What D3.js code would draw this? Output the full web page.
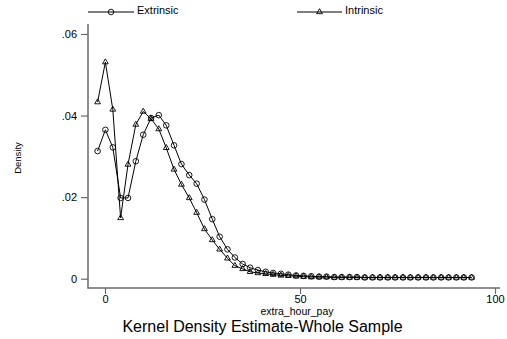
<!DOCTYPE html>
<html>
<head>
<meta charset="utf-8">
<script src="https://cdn.jsdelivr.net/npm/d3@7"></script>
<style>
  body { margin: 0; background: #fff; }
  svg { display: block; font-family: "Liberation Sans", Arial, sans-serif; }
</style>
</head>
<body>
<script>
// evaluation points of the kernel density (extra_hour_pay)
var xPoints = [-1.9, 0.1, 2.0, 4.0, 5.9, 7.9, 9.8, 11.8, 13.8, 15.7,
    17.7, 19.6, 21.6, 23.5, 25.5, 27.5, 29.4, 31.4, 33.3, 35.3,
    37.2, 39.2, 41.2, 43.1, 45.1, 47.0, 49.0, 50.9, 52.9, 54.9,
    56.8, 58.8, 60.7, 62.7, 64.6, 66.6, 68.6, 70.5, 72.5, 74.4,
    76.4, 78.3, 80.3, 82.3, 84.2, 86.2, 88.1, 90.1, 92.0, 94.0];

var extrinsic = [0.0313, 0.0365, 0.0322, 0.0198, 0.0198, 0.0288, 0.0353, 0.0394, 0.0401, 0.0376,
    0.0327, 0.0281, 0.0254, 0.0233, 0.0194, 0.0146, 0.0103, 0.0072, 0.0052, 0.0036,
    0.0027, 0.0021, 0.0017, 0.0014, 0.0012, 0.0010, 0.0008, 0.0007, 0.0006, 0.0005,
    0.0005, 0.0004, 0.0004, 0.0004, 0.0004, 0.0003, 0.0003, 0.0003, 0.0003, 0.0003,
    0.0003, 0.0003, 0.0003, 0.0003, 0.0003, 0.0003, 0.0003, 0.0003, 0.0003, 0.0003];

var intrinsic = [0.0433, 0.0531, 0.0415, 0.0149, 0.0280, 0.0378, 0.0410, 0.0392, 0.0367, 0.0321,
    0.0268, 0.0231, 0.0198, 0.0162, 0.0122, 0.0095, 0.0072, 0.0050, 0.0032, 0.0024,
    0.0017, 0.0014, 0.0012, 0.0010, 0.0008, 0.0007, 0.0006, 0.0005, 0.0004, 0.0004,
    0.0004, 0.0003, 0.0003, 0.0003, 0.0003, 0.0003, 0.0003, 0.0003, 0.0003, 0.0003,
    0.0003, 0.0003, 0.0003, 0.0003, 0.0003, 0.0003, 0.0003, 0.0003, 0.0003, 0.0003];

var xTicks = [0, 50, 100];
var yTicks = [0, 0.02, 0.04, 0.06];
var yTickLabels = ["0", ".02", ".04", ".06"];

var seriesNames = ["Extrinsic", "Intrinsic"];

(function() {
    var width = 507, height = 339;
    var svg = d3.select("body").append("svg")
        .attr("width", width)
        .attr("height", height);

    var x = d3.scaleLinear().domain([0, 100]).range([105, 495]);
    var y = d3.scaleLinear().domain([0, 0.06]).range([278.7, 34]);

    var axisColor = "#6a6a6a";

    // y axis
    var yAxis = d3.axisLeft(y)
        .tickValues(yTicks)
        .tickSize(7)
        .tickPadding(4)
        .tickFormat((d, i) => yTickLabels[i]);
    var yg = svg.append("g").attr("transform", "translate(88,0)").call(yAxis);
    yg.select(".domain").remove();
    yg.selectAll(".tick line").attr("stroke", axisColor).attr("stroke-width", 1.2);
    yg.selectAll(".tick text").attr("font-size", 11).attr("fill", "#000")
        .attr("font-family", "Liberation Sans, Arial, sans-serif");
    svg.append("line")
        .attr("x1", 88).attr("x2", 88)
        .attr("y1", 24).attr("y2", 288.5)
        .attr("stroke", axisColor).attr("stroke-width", 1.5);

    // x axis
    var xAxis = d3.axisBottom(x)
        .tickValues(xTicks)
        .tickSize(6)
        .tickPadding(1)
        .tickFormat(d3.format("d"));
    var xg = svg.append("g").attr("transform", "translate(0,288)").call(xAxis);
    xg.select(".domain").remove();
    xg.selectAll(".tick line").attr("stroke", axisColor).attr("stroke-width", 1.2);
    xg.selectAll(".tick text").attr("font-size", 11).attr("fill", "#000")
        .attr("font-family", "Liberation Sans, Arial, sans-serif");
    svg.append("line")
        .attr("x1", 87.5).attr("x2", 500)
        .attr("y1", 288).attr("y2", 288)
        .attr("stroke", axisColor).attr("stroke-width", 1.5);

    // axis titles
    svg.append("text")
        .attr("x", 297).attr("y", 314.5)
        .attr("text-anchor", "middle")
        .attr("font-size", 10.5)
        .text("extra_hour_pay");

    svg.append("text")
        .attr("transform", "translate(20.5,158) rotate(-90)")
        .attr("text-anchor", "middle")
        .attr("font-size", 9.5)
        .text("Density");

    svg.append("text")
        .attr("x", 262.5).attr("y", 331.5)
        .attr("text-anchor", "middle")
        .attr("font-size", 16)
        .text("Kernel Density Estimate-Whole Sample");

    // series
    var ext = xPoints.map((v, i) => ({x: v, y: extrinsic[i]}));
    var intr = xPoints.map((v, i) => ({x: v, y: intrinsic[i]}));

    var line = d3.line().x(d => x(d.x)).y(d => y(d.y));

    var triPath = "M0,-3.3L2.9,1.7L-2.9,1.7Z";

    svg.append("path").datum(ext)
        .attr("fill", "none").attr("stroke", "#000").attr("stroke-width", 1)
        .attr("d", line);
    svg.append("path").datum(intr)
        .attr("fill", "none").attr("stroke", "#000").attr("stroke-width", 1)
        .attr("d", line);

    svg.append("g").selectAll("circle")
        .data(ext)
        .enter().append("circle")
        .attr("cx", d => x(d.x))
        .attr("cy", d => y(d.y))
        .attr("r", 2.8)
        .attr("fill", "none")
        .attr("stroke", "#000")
        .attr("stroke-width", 0.9);

    svg.append("g").selectAll("path")
        .data(intr)
        .enter().append("path")
        .attr("transform", d => `translate(${x(d.x)},${y(d.y)})`)
        .attr("d", triPath)
        .attr("fill", "none")
        .attr("stroke", "#000")
        .attr("stroke-width", 0.9);

    // legend
    var legendItems = [
        {name: seriesNames[0], x0: 88, x1: 134, marker: "circle"},
        {name: seriesNames[1], x0: 297, x1: 342, marker: "triangle"}
    ];
    var lg = svg.append("g").selectAll("g")
        .data(legendItems)
        .enter().append("g");
    lg.append("line")
        .attr("x1", d => d.x0).attr("x2", d => d.x1)
        .attr("y1", 12).attr("y2", 12)
        .attr("stroke", "#000").attr("stroke-width", 1);
    lg.filter(d => d.marker === "circle").append("circle")
        .attr("cx", d => (d.x0 + d.x1) / 2).attr("cy", 12)
        .attr("r", 2.8)
        .attr("fill", "none").attr("stroke", "#000").attr("stroke-width", 0.9);
    lg.filter(d => d.marker === "triangle").append("path")
        .attr("transform", d => `translate(${(d.x0 + d.x1) / 2},12)`)
        .attr("d", triPath)
        .attr("fill", "none").attr("stroke", "#000").attr("stroke-width", 0.9);
    lg.append("text")
        .attr("x", d => d.x1 + 3).attr("y", 14)
        .attr("font-size", 11)
        .text(d => d.name);
})();
</script>
</body>
</html>
